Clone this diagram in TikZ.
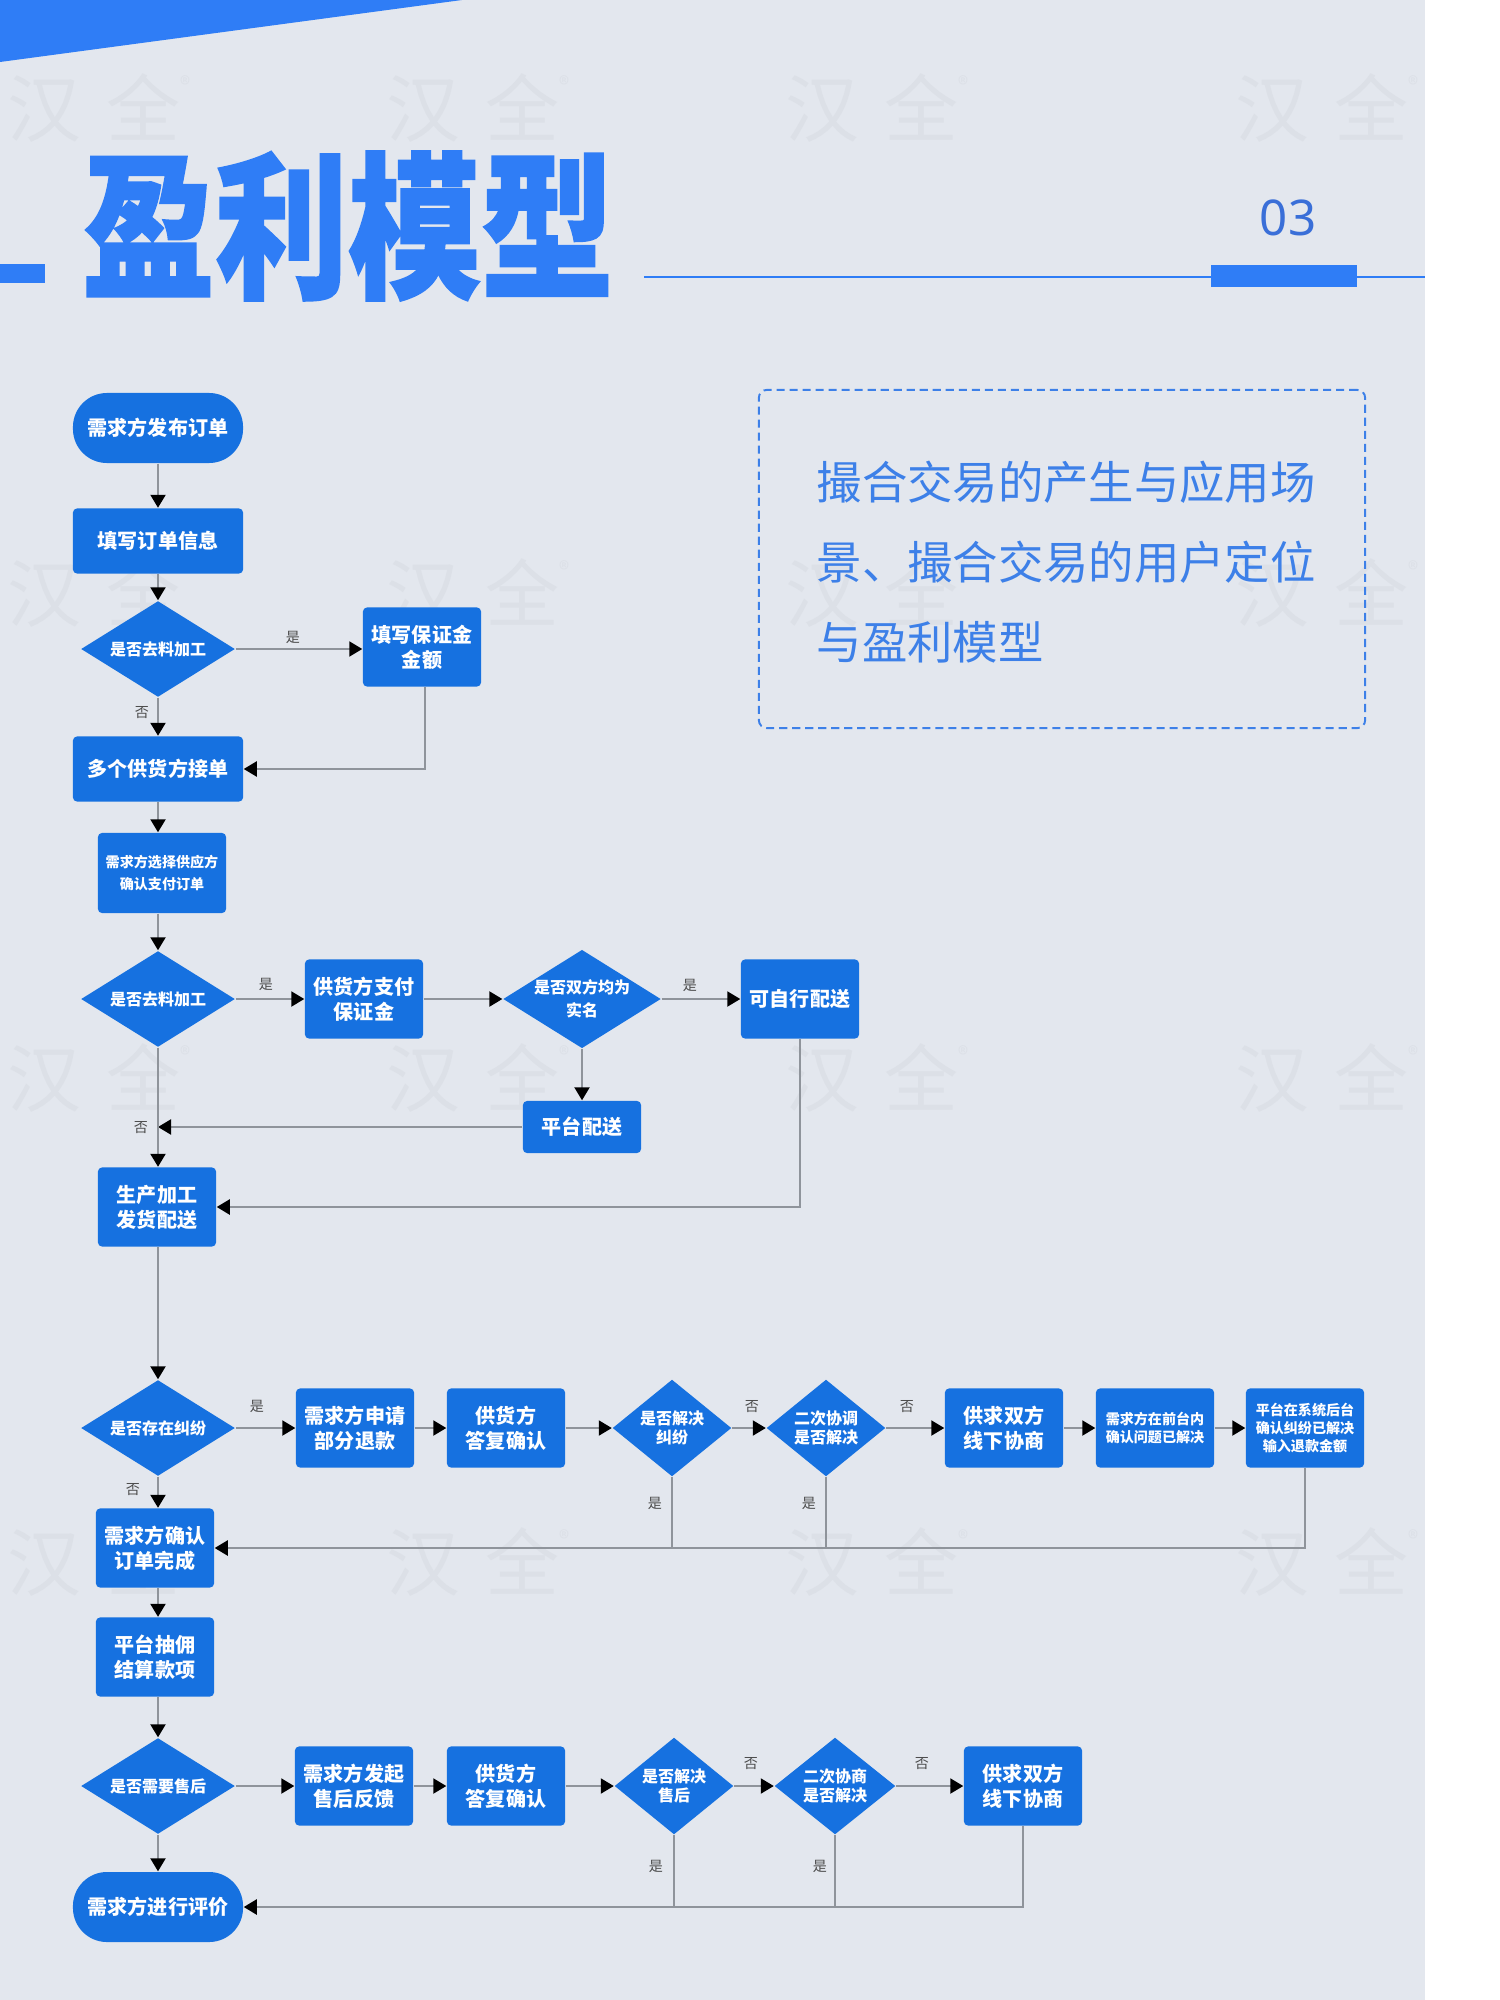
\documentclass[tikz,border=0pt]{standalone}
\usepackage{fontspec}
\usepackage{graphicx}
\setmainfont{Noto Sans CJK SC}
\newfontfamily\titlefont{Noto Sans CJK SC}[BoldFeatures={FakeBold=1.2}]
\newfontfamily\numfont{Noto Sans}
\usetikzlibrary{shapes.geometric,arrows.meta}
\definecolor{bg}{HTML}{E3E7EE}
\definecolor{boxblue}{HTML}{1671E0}
\definecolor{titleblue}{HTML}{2F7DF6}
\definecolor{lineg}{HTML}{8F949B}
\definecolor{wm}{HTML}{DCE0E7}
\definecolor{txtblue}{HTML}{3D80E8}
\definecolor{numblue}{HTML}{3A6FD8}
\tikzset{
  proc/.style={fill=boxblue, rounded corners=0.4mm, text=white,
    font=\bfseries\fontsize{5.7pt}{7.1pt}\selectfont, align=center,
    minimum width=1.18cm, minimum height=0.79cm, inner sep=0pt},
  wideproc/.style={proc, minimum width=1.7cm, minimum height=0.65cm},
  term/.style={proc, rounded corners=3.4mm, minimum width=1.7cm, minimum height=0.7cm},
  dec/.style={diamond, fill=boxblue, text=white,
    font=\bfseries\fontsize{4.55pt}{6.4pt}\selectfont, align=center,
    inner sep=0pt, aspect=1.6, minimum width=1.54cm, minimum height=0.96cm},
  sdec/.style={dec, aspect=1.23, minimum width=1.19cm, minimum height=0.97cm,
    font=\bfseries\fontsize{4.55pt}{5.6pt}\selectfont},
  smalltxt/.style={font=\bfseries\fontsize{4pt}{6.5pt}\selectfont},
  tinytxt/.style={font=\bfseries\fontsize{4pt}{5.1pt}\selectfont},
  conn/.style={draw=lineg, line width=0.5pt},
  arr/.style={conn, -{Triangle[length=3.7pt,width=4.3pt,color=black]}},
  lbl/.style={font=\fontsize{4pt}{5pt}\selectfont, text=black!70, inner sep=0pt},
  wmark/.style={font=\fontsize{21pt}{21pt}\selectfont, text=wm, inner sep=0pt},
}
\begin{document}
\begin{tikzpicture}[x=0.01cm,y=-0.01cm]
\useasboundingbox (0,0) rectangle (1500,2000);
\fill[white] (0,0) rectangle (1500,2000);
\fill[bg] (0,0) rectangle (1425,2000);
% watermarks
\foreach \yy in {108,593,1078,1562}{
  \foreach \xx in {99,478,877,1327}{
    \node[wmark] (wm-\xx-\yy) at (\xx,\yy) {汉\hspace{0.35em}全\raisebox{0.6em}{\fontsize{6pt}{6pt}\selectfont ®}};
  }
}
% header
\fill[titleblue] (0,0) -- (462,0) -- (0,62) -- cycle;
\fill[titleblue] (0,264) rectangle (45,283);
\draw[titleblue, line width=0.85pt] (644,277) -- (1425,277);
\fill[titleblue] (1211,265) rectangle (1357,287);
\node[text=titleblue, inner sep=0pt] (title) at (348,226)
  {\scalebox{0.86}[1.02]{\titlefont\bfseries\fontsize{44pt}{44pt}\selectfont 盈利模型}};
\node[text=numblue, inner sep=0pt] (num) at (1288,218) {\numfont\fontsize{14pt}{14pt}\selectfont 03};
% note box
\node[draw=txtblue, dash pattern=on 2.3pt off 1.4pt, line width=0.55pt, rounded corners=0.8mm,
  minimum width=6.06cm, minimum height=3.38cm, inner sep=0pt] (note) at (1062,559) {};
\node[anchor=west, align=left, text=txtblue, inner sep=0pt,
  font=\fontsize{12.9pt}{22.76pt}\selectfont] (notetext) at (816,562)
  {撮合交易的产生与应用场\\景、撮合交易的用户定位\\与盈利模型};
% column 1
\node[term] (s1) at (158,428) {需求方发布订单};
\node[wideproc] (b1) at (158,541) {填写订单信息};
\node[dec] (d1) at (158,649) {是否去料加工};
\node[proc] (b2) at (422,647) {填写保证金\\金额};
\node[wideproc] (b3) at (158,769) {多个供货方接单};
\node[proc, smalltxt, minimum width=1.28cm, minimum height=0.8cm] (b4) at (162,873) {需求方选择供应方\\确认支付订单};
\node[dec] (d2) at (158,999) {是否去料加工};
\node[proc] (b5) at (364,999) {供货方支付\\保证金};
\node[dec, font=\bfseries\fontsize{4.55pt}{6.6pt}\selectfont, minimum height=0.97cm] (d3) at (582,999) {是否双方均为\\实名};
\node[proc] (b6) at (800,999) {可自行配送};
\node[proc, minimum height=0.52cm] (b7) at (582,1127) {平台配送};
\node[proc] (b8) at (157,1207) {生产加工\\发货配送};
% dispute row
\node[dec] (d4) at (158,1428) {是否存在纠纷};
\node[proc] (b9) at (355,1428) {需求方申请\\部分退款};
\node[proc] (b10) at (506,1428) {供货方\\答复确认};
\node[sdec] (d5) at (672,1428) {是否解决\\纠纷};
\node[sdec] (d6) at (826,1428) {二次协调\\是否解决};
\node[proc] (b11) at (1004,1428) {供求双方\\线下协商};
\node[proc, tinytxt] (b12) at (1155,1428) {需求方在前台内\\确认问题已解决};
\node[proc, tinytxt] (b13) at (1305,1428) {平台在系统后台\\确认纠纷已解决\\输入退款金额};
\node[proc] (b14) at (155,1548) {需求方确认\\订单完成};
\node[proc] (b15) at (155,1657) {平台抽佣\\结算款项};
% after-sales row
\node[dec] (d7) at (158,1786) {是否需要售后};
\node[proc] (b16) at (354,1786) {需求方发起\\售后反馈};
\node[proc] (b17) at (506,1786) {供货方\\答复确认};
\node[sdec] (d8) at (674,1786) {是否解决\\售后};
\node[sdec, minimum width=1.21cm] (d9) at (835,1786) {二次协商\\是否解决};
\node[proc] (b18) at (1023,1786) {供求双方\\线下协商};
\node[term] (s2) at (158,1907) {需求方进行评价};
% connectors column 1
\draw[arr] (s1) -- (b1);
\draw[arr] (b1) -- (d1);
\draw[arr] (d1) -- (b2.west |- d1.east);
\draw[arr] (d1) -- (b3);
\draw[arr] (b2.south -| 425,0) |- (b3.east);
\draw[arr] (b3.south) -- (b3.south |- b4.north);
\draw[arr] (b4.south -| 158,0) -- (d2.north);
\draw[arr] (d2) -- (b5);
\draw[arr] (b5) -- (d3);
\draw[arr] (d3) -- (b6);
\draw[arr] (d3) -- (b7);
\draw[arr] (b7.west) -- (d2.south |- b7.west);
\draw[arr] (d2.south) -- (d2.south |- b8.north);
\draw[arr] (b6.south) |- (b8.east);
\draw[arr] (b8.south -| d2.south) -- (d4.north);
% dispute row connectors
\draw[arr] (d4) -- (b9);
\draw[arr] (b9) -- (b10);
\draw[arr] (b10) -- (d5);
\draw[arr] (d5) -- (d6);
\draw[arr] (d6) -- (b11);
\draw[arr] (b11) -- (b12);
\draw[arr] (b12) -- (b13);
\draw[arr] (b13.south) |- (b14.east);
\draw[conn] (d5.south) -- (d5.south |- b14.east);
\draw[conn] (d6.south) -- (d6.south |- b14.east);
\draw[arr] (d4.south) -- (d4.south |- b14.north);
\draw[arr] (b14.south -| d4.south) -- (d4.south |- b15.north);
\draw[arr] (b15.south -| d4.south) -- (d7.north);
% after-sales connectors
\draw[arr] (d7) -- (b16);
\draw[arr] (b16) -- (b17);
\draw[arr] (b17) -- (d8);
\draw[arr] (d8) -- (d9);
\draw[arr] (d9) -- (b18);
\draw[arr] (b18.south) |- (s2.east);
\draw[conn] (d8.south) -- (d8.south |- s2.east);
\draw[conn] (d9.south) -- (d9.south |- s2.east);
\draw[arr] (d7) -- (s2);
% labels
\node[lbl] (l1) at (293,637) {是};
\node[lbl] (l2) at (142,713) {否};
\node[lbl] (l3) at (266,984) {是};
\node[lbl] (l4) at (690,985) {是};
\node[lbl] (l5) at (141,1128) {否};
\node[lbl] (l6) at (257,1406) {是};
\node[lbl] (l7) at (133,1490) {否};
\node[lbl] (l8) at (752,1407) {否};
\node[lbl] (l9) at (907,1407) {否};
\node[lbl] (l10) at (655,1503) {是};
\node[lbl] (l11) at (809,1503) {是};
\node[lbl] (l12) at (751,1764) {否};
\node[lbl] (l13) at (922,1764) {否};
\node[lbl] (l14) at (656,1866) {是};
\node[lbl] (l15) at (820,1866) {是};
\end{tikzpicture}
\end{document}
